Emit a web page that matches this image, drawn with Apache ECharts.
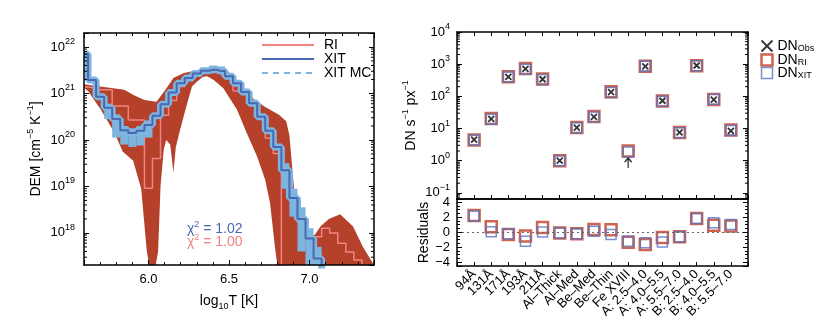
<!DOCTYPE html>
<html><head><meta charset="utf-8">
<script src="https://cdn.jsdelivr.net/npm/echarts@6/dist/echarts.min.js"></script>
<style>html,body{margin:0;padding:0;background:#fff}#c{width:830px;height:332px}</style>
</head><body><div id="c"></div>
<script>
// ===== Left panel: DEM (values are log10 DEM, cm^-5 K^-1) =====
const xitLogT = [5.60,5.65,5.70,5.75,5.80,5.85,5.90,5.95,6.00,6.05,6.10,6.15,6.20,6.25,6.30,6.35,6.40,6.45,6.50,6.55,6.60,6.65,6.70,6.75,6.80,6.85,6.90,6.95,7.00,7.05,7.10,7.15];
const xitLogDEM = [21.85,21.29,20.93,20.69,20.45,20.21,20.15,20.20,20.32,20.52,20.77,21.02,21.22,21.33,21.43,21.49,21.51,21.48,21.37,21.22,21.03,20.79,20.50,20.20,19.85,19.35,18.75,18.30,17.88,17.45,17.00,16.50];

const riLogT = [5.60,5.65,5.70,5.75,5.80,5.85,5.90,5.95,6.00,6.05,6.10,6.15,6.20,6.25,6.30,6.35,6.40,6.45,6.50,6.55,6.60,6.65,6.70,6.75,6.80,6.85,6.90,6.95,7.00,7.05,7.10,7.15,7.20,7.25,7.30,7.35,7.40];
const riLogDEM = [21.14,21.13,21.08,21.08,20.73,20.73,20.43,20.43,18.96,19.60,20.53,20.85,21.15,21.28,21.39,21.45,21.47,21.44,21.32,21.05,20.98,20.74,20.47,20.04,19.71,16.50,16.50,16.50,16.50,17.92,18.10,18.00,17.78,17.59,17.42,16.50,16.50];

// RI uncertainty band (upper / lower edges)
const bandUpperLogT = [5.60,5.70,5.85,5.91,5.975,6.05,6.11,6.155,6.22,6.29,6.35,6.41,6.475,6.54,6.58,6.66,6.725,6.81,6.855,6.875,6.895,6.915,6.94,6.98,7.03,7.07,7.12,7.19,7.27,7.33,7.40];
const bandUpperLogDEM = [21.20,21.15,21.08,20.96,20.86,20.82,21.10,21.33,21.44,21.49,21.52,21.56,21.54,21.30,21.12,20.86,20.71,20.54,20.40,20.10,19.30,18.50,18.10,17.95,17.95,18.15,18.30,18.40,18.14,17.71,17.30];
const bandLowerLogT = [5.60,5.625,5.705,5.79,5.84,5.905,5.955,5.99,6.005,6.045,6.06,6.075,6.095,6.11,6.135,6.155,6.17,6.195,6.235,6.27,6.30,6.34,6.365,6.405,6.465,6.55,6.61,6.675,6.725,6.755,6.785,6.80,7.40];
const bandLowerLogDEM = [21.12,21.05,20.65,20.15,19.75,19.55,18.95,17.60,16.50,16.50,17.60,19.00,19.80,20.00,19.90,19.30,19.85,20.20,20.72,21.15,21.25,21.36,21.37,21.29,21.11,20.65,20.15,19.64,19.14,18.64,17.70,16.50,16.50];

// XIT Monte-Carlo spread (bin centre, low, high)
const mcLogT  = [5.75,5.80,5.85,5.90,5.95,6.00,6.40,6.45,6.85,6.90,6.95,7.00,7.05];
const mcLogLo = [20.45,20.05,19.90,19.85,19.88,20.05,21.44,21.42,18.95,18.35,17.60,17.30,17.30];
const mcLogHi = [20.78,20.55,20.30,20.25,20.30,20.42,21.60,21.58,19.50,18.95,18.55,18.10,17.70];

const chiXIT = '1.02', chiRI = '1.00';

// ===== Right panel: DN and residuals =====
const channels = ['94Å','131Å','171Å','193Å','211Å','Al–Thick','Al–Med','Be–Med','Be–Thin','Fe XVIII','A: 2.5–4.0','A: 4.0–5.5','A: 5.5–7.0','B: 2.5–4.0','B: 4.0–5.5','B: 5.5–7.0'];
const dnObs   = [4.5,20,400,720,340,1.0,10.7,23,135,0.85,850,73,7.6,910,79,8.5];
const obsIsLimit = [0,0,0,0,0,0,0,0,0,1,0,0,0,0,0,0];
const dnRI    = [4.4,20.5,410,740,345,1.0,10.8,23.5,138,2.0,860,72,7.5,900,80,9.0];
const dnXIT   = [4.4,19.5,400,700,335,1.0,10.6,23,132,1.85,870,70,7.4,900,81,8.7];
const resRI   = [2.2,0.7,-0.3,-0.5,0.6,-0.1,-0.2,0.35,0.3,-1.35,-1.65,-0.7,-0.6,1.8,0.9,0.8];
const resXIT  = [2.15,0.05,-0.2,-1.2,0.0,-0.1,-0.2,0.1,-0.3,-1.2,-1.4,-1.3,-0.6,1.8,1.25,1.0];

// ===== styling =====
const FONT = '"Liberation Sans", Arial, Helvetica, sans-serif';
const PINK = '#f08282', DBLUE = '#4a68b0', LBLUE = '#7db4e0', BAND = '#b5412b';
const RED = '#c23d26', SQBLUE = '#5573c2';
const MCW = 0.025;

function p10(e){ return Math.pow(10, e); }
function logLabel(v){ const e = Math.log10(v); const r = Math.round(e); if (Math.abs(e - r) > 1e-6) return ''; return '10{sup|' + (r < 0 ? '\u2212' + (-r) : r) + '}'; }
const supRich = { sup: { fontSize: 9, lineHeight: 10, verticalAlign: 'top', fontFamily: FONT, color: '#000' } };
const subRich = { sub: { fontSize: 9, lineHeight: 10, verticalAlign: 'bottom', fontFamily: FONT, color: '#000' } };
const AL = { show: true, onZero: false, lineStyle: { color: '#000', width: 1.5 } };
const lblBase = { color: '#000', fontFamily: FONT, fontSize: 13 };

function minorLogVals(lo, hi){ const a = []; for (let n = Math.floor(lo); n <= Math.ceil(hi); n++) for (let k = 2; k <= 9; k++) { const e = Math.log10(k) + n; if (e > lo && e < hi) a.push(Math.pow(10, e)); } return a; }
function tickSeries(xi, yi, xAt, lo, hi){
  return { type: 'custom', xAxisIndex: xi, yAxisIndex: yi, silent: true, z: 20,
    data: minorLogVals(lo, hi).map(v => [xAt, v]),
    renderItem: function(params, api){ const cs = params.coordSys; const y = api.coord([xAt, api.value(1)])[1];
      return { type: 'group', children: [
        { type: 'line', shape: { x1: cs.x, y1: y, x2: cs.x + 3, y2: y }, style: { stroke: '#000', lineWidth: 1 } },
        { type: 'line', shape: { x1: cs.x + cs.width - 3, y1: y, x2: cs.x + cs.width, y2: y }, style: { stroke: '#000', lineWidth: 1 } } ] }; } };
}

const DEM_MIN = p10(17.31), DEM_MAX = p10(22.3);
const DN_MIN = p10(-1.19), DN_MAX = 1e4;

const xAxes = [
  { gridIndex: 0, type: 'value', position: 'bottom', min: 5.6, max: 7.4, splitNumber: 4, z: 10,
    axisLine: AL, splitLine: { show: false }, axisTick: { inside: true, length: 5, lineStyle: { color: '#000' } },
    minorTick: { show: true, splitNumber: 5, length: 3, lineStyle: { color: '#000' } },
    axisLabel: Object.assign({ margin: 8, showMinLabel: false, showMaxLabel: false, formatter: v => v.toFixed(1) }, lblBase),
    name: 'log{sub|10}T [K]', nameLocation: 'middle', nameGap: 24,
    nameTextStyle: { fontSize: 14, fontFamily: FONT, color: '#000', lineHeight: 20, rich: subRich } },
  { gridIndex: 0, type: 'value', position: 'top', min: 5.6, max: 7.4, splitNumber: 4, z: 10,
    axisLine: AL, splitLine: { show: false }, axisLabel: { show: false }, axisTick: { inside: true, length: 5, lineStyle: { color: '#000' } },
    minorTick: { show: true, splitNumber: 5, length: 3, lineStyle: { color: '#000' } } },
  { gridIndex: 1, type: 'value', position: 'bottom', min: 0, max: 17, interval: 1, z: 10,
    axisLine: AL, splitLine: { show: false }, axisLabel: { show: false }, axisTick: { inside: true, length: 4, lineStyle: { color: '#000' } } },
  { gridIndex: 1, type: 'value', position: 'top', min: 0, max: 17, interval: 1, z: 10,
    axisLine: AL, splitLine: { show: false }, axisLabel: { show: false }, axisTick: { inside: true, length: 4, lineStyle: { color: '#000' } } },
  { gridIndex: 2, type: 'value', position: 'bottom', min: 0, max: 17, interval: 1, z: 10,
    axisLine: AL, splitLine: { show: false }, axisTick: { inside: true, length: 4, lineStyle: { color: '#000' } },
    axisLabel: Object.assign({ rotate: 45, margin: 6, interval: 0, formatter: v => (v >= 1 && v <= channels.length) ? channels[v - 1] : '' }, lblBase) },
  { gridIndex: 2, type: 'value', position: 'top', min: 0, max: 17, interval: 1, z: 10,
    axisLine: AL, splitLine: { show: false }, axisLabel: { show: false }, axisTick: { show: false } }
];
const yAxes = [
  { gridIndex: 0, type: 'log', position: 'left', min: DEM_MIN, max: DEM_MAX, z: 10,
    axisLine: AL, splitLine: { show: false }, axisTick: { inside: true, length: 5, lineStyle: { color: '#000' } },
    axisLabel: Object.assign({ margin: 9, lineHeight: 20, showMinLabel: false, formatter: logLabel, rich: supRich }, lblBase),
    name: 'DEM [cm{sup|\u22125} K{sup|\u22121}]', nameLocation: 'middle', nameGap: 38,
    nameTextStyle: { fontSize: 14, fontFamily: FONT, color: '#000', lineHeight: 20, rich: supRich } },
  { gridIndex: 0, type: 'log', position: 'right', min: DEM_MIN, max: DEM_MAX, z: 10,
    axisLine: AL, splitLine: { show: false }, axisLabel: { show: false }, axisTick: { inside: true, length: 5, lineStyle: { color: '#000' } } },
  { gridIndex: 1, type: 'log', position: 'left', min: DN_MIN, max: DN_MAX, z: 10,
    axisLine: AL, splitLine: { show: false }, axisTick: { inside: true, length: 5, lineStyle: { color: '#000' } },
    axisLabel: Object.assign({ margin: 7, lineHeight: 20, showMinLabel: false, formatter: logLabel, rich: supRich }, lblBase),
    name: 'DN s{sup|\u22121} px{sup|\u22121}', nameLocation: 'middle', nameGap: 34,
    nameTextStyle: { fontSize: 14, fontFamily: FONT, color: '#000', lineHeight: 20, rich: supRich } },
  { gridIndex: 1, type: 'log', position: 'right', min: DN_MIN, max: DN_MAX, z: 10,
    axisLine: AL, splitLine: { show: false }, axisLabel: { show: false }, axisTick: { inside: true, length: 5, lineStyle: { color: '#000' } } },
  { gridIndex: 2, type: 'value', position: 'left', min: -4.5, max: 4.4, z: 10,
    axisLine: AL, splitLine: { show: false }, axisTick: { inside: true, length: 5, lineStyle: { color: '#000' } },
    minorTick: { show: true, splitNumber: 4, length: 3, lineStyle: { color: '#000' } },
    axisLabel: Object.assign({ margin: 7, showMinLabel: false, showMaxLabel: false, formatter: v => v < 0 ? '\u2212' + (-v) : String(v) }, lblBase),
    name: 'Residuals', nameLocation: 'middle', nameGap: 26,
    nameTextStyle: { fontSize: 14, fontFamily: FONT, color: '#000' } },
  { gridIndex: 2, type: 'value', position: 'right', min: -4.5, max: 4.4, z: 10,
    axisLine: AL, splitLine: { show: false }, axisLabel: { show: false }, axisTick: { inside: true, length: 5, lineStyle: { color: '#000' } },
    minorTick: { show: true, splitNumber: 4, length: 3, lineStyle: { color: '#000' } } }
];

const series = [];
// RI band
series.push({ type: 'custom', xAxisIndex: 0, yAxisIndex: 0, silent: true, z: 1,
  data: [[bandUpperLogT[0], p10(bandUpperLogDEM[0])]],
  renderItem: function(params, api){
    const pts = [];
    for (let i = 0; i < bandUpperLogT.length; i++) pts.push(api.coord([bandUpperLogT[i], p10(bandUpperLogDEM[i])]));
    for (let i = bandLowerLogT.length - 1; i >= 0; i--) pts.push(api.coord([bandLowerLogT[i], p10(bandLowerLogDEM[i])]));
    return { type: 'polygon', shape: { points: echarts.graphic.clipPointsByRect(pts, params.coordSys) }, style: { fill: BAND } };
  } });
// RI step line
series.push({ type: 'line', name: 'RI', xAxisIndex: 0, yAxisIndex: 0, step: 'middle', symbol: 'none', showSymbol: false, z: 3,
  data: riLogT.map((t, i) => [t, p10(riLogDEM[i])]), lineStyle: { color: PINK, width: 1.5 }, itemStyle: { color: PINK } });
// MC spread boxes
series.push({ type: 'custom', xAxisIndex: 0, yAxisIndex: 0, silent: true, z: 4,
  data: mcLogT.map((t, i) => [t, p10(mcLogLo[i]), p10(mcLogHi[i])]), encode: { x: 0, y: [1, 2] },
  renderItem: function(params, api){
    const t = api.value(0);
    const a = api.coord([t - MCW, api.value(2)]), b = api.coord([t + MCW, api.value(1)]);
    const r = echarts.graphic.clipRectByRect({ x: a[0], y: a[1], width: b[0] - a[0], height: b[1] - a[1] }, params.coordSys);
    return r ? { type: 'rect', shape: r, style: { fill: LBLUE } } : null;
  } });
// MC thick band following XIT
series.push({ type: 'line', name: 'mcband', xAxisIndex: 0, yAxisIndex: 0, step: 'middle', symbol: 'none', z: 4,
  data: xitLogT.map((t, i) => [t, p10(xitLogDEM[i])]), lineStyle: { color: LBLUE, width: 7 } });
// legend-only MC entry
series.push({ type: 'line', name: 'XIT MC', xAxisIndex: 0, yAxisIndex: 0, symbol: 'none', showSymbol: false, data: [],
  lineStyle: { color: LBLUE, width: 1.5, type: [6, 5] }, itemStyle: { color: LBLUE } });
// XIT step line
series.push({ type: 'line', name: 'XIT', xAxisIndex: 0, yAxisIndex: 0, step: 'middle', symbol: 'none', showSymbol: false, z: 5,
  data: xitLogT.map((t, i) => [t, p10(xitLogDEM[i])]), lineStyle: { color: DBLUE, width: 2 }, itemStyle: { color: DBLUE } });
series.push(tickSeries(0, 0, 6.0, 17.31, 22.3));

// Right upper: DN
series.push({ type: 'scatter', name: 'DN_RI', xAxisIndex: 2, yAxisIndex: 2, symbol: 'rect', symbolSize: 11, z: 3,
  data: dnRI.map((v, i) => [i + 1, v]), itemStyle: { color: 'rgba(0,0,0,0)', borderColor: RED, borderWidth: 2.5 } });
series.push({ type: 'scatter', name: 'DN_XIT', xAxisIndex: 2, yAxisIndex: 2, symbol: 'rect', symbolSize: 10, z: 4,
  data: dnXIT.map((v, i) => [i + 1, v]), itemStyle: { color: 'rgba(0,0,0,0)', borderColor: SQBLUE, borderWidth: 1.5 } });
series.push({ type: 'scatter', name: 'DN_Obs', xAxisIndex: 2, yAxisIndex: 2, symbol: 'path://M0,0L10,10M10,0L0,10', symbolSize: 6, z: 5,
  data: dnObs.map((v, i) => [i + 1, v]).filter((d, i) => !obsIsLimit[i]), itemStyle: { color: 'none', borderColor: '#000', borderWidth: 1.8 } });
series.push({ type: 'scatter', name: 'limit', xAxisIndex: 2, yAxisIndex: 2, symbol: 'path://M5,0L9,5M5,0L1,5M5,0L5,12', symbolSize: [7, 10], z: 5,
  data: dnObs.map((v, i) => [i + 1, v]).filter((d, i) => obsIsLimit[i]), itemStyle: { color: 'none', borderColor: '#000', borderWidth: 1.5 } });
series.push(tickSeries(2, 2, 1, -1.19, 4));

// Right lower: residuals
series.push({ type: 'scatter', name: 'DN_RI', xAxisIndex: 4, yAxisIndex: 4, symbol: 'rect', symbolSize: 11, z: 3,
  data: resRI.map((v, i) => [i + 1, v]), itemStyle: { color: 'rgba(0,0,0,0)', borderColor: RED, borderWidth: 2.5 },
  markLine: { silent: true, symbol: ['none', 'none'], label: { show: false }, data: [{ yAxis: 0 }],
    lineStyle: { color: '#666', width: 1, type: [2, 3] }, animation: false } });
series.push({ type: 'scatter', name: 'DN_XIT', xAxisIndex: 4, yAxisIndex: 4, symbol: 'rect', symbolSize: 10, z: 4,
  data: resXIT.map((v, i) => [i + 1, v]), itemStyle: { color: 'rgba(0,0,0,0)', borderColor: SQBLUE, borderWidth: 1.5 } });

const option = {
  animation: false,
  backgroundColor: '#fff',
  grid: [
    { left: 84, top: 33, width: 290, height: 232 },
    { left: 457, top: 32, width: 291, height: 167 },
    { left: 457, top: 199, width: 291, height: 67 }
  ],
  xAxis: xAxes, yAxis: yAxes,
  legend: [
    { data: ['RI', 'XIT', 'XIT MC'], orient: 'vertical', left: 256, top: 33, itemWidth: 52, itemHeight: 14, itemGap: 0,
      selectedMode: false, itemStyle: { opacity: 0 },
      textStyle: { fontSize: 14, fontFamily: FONT, color: '#000', lineHeight: 14, padding: [0, 0, 0, 5] } },
    { data: ['DN_Obs', 'DN_RI', 'DN_XIT'], orient: 'vertical', left: 754, top: 33, itemWidth: 11, itemHeight: 11, itemGap: -1,
      selectedMode: false, itemStyle: { borderWidth: 'inherit' },
      formatter: n => 'DN{sub|' + n.split('_')[1] + '}',
      textStyle: { fontSize: 14, fontFamily: FONT, color: '#000', lineHeight: 14, rich: subRich } }
  ],
  graphic: [
    { type: 'text', left: 187, top: 220, style: { text: '\u03c7{s|2} = ' + chiXIT, fill: DBLUE, fontSize: 14, fontFamily: FONT, lineHeight: 18,
      rich: { s: { fontSize: 9, lineHeight: 10, verticalAlign: 'top', fill: DBLUE, fontFamily: FONT } } } },
    { type: 'text', left: 187, top: 233, style: { text: '\u03c7{s|2} = ' + chiRI, fill: PINK, fontSize: 14, fontFamily: FONT, lineHeight: 18,
      rich: { s: { fontSize: 9, lineHeight: 10, verticalAlign: 'top', fill: PINK, fontFamily: FONT } } } }
  ],
  series: series
};
const chart = echarts.init(document.getElementById('c'), null, { renderer: 'canvas' });
chart.setOption(option);
</script>
</body></html>
